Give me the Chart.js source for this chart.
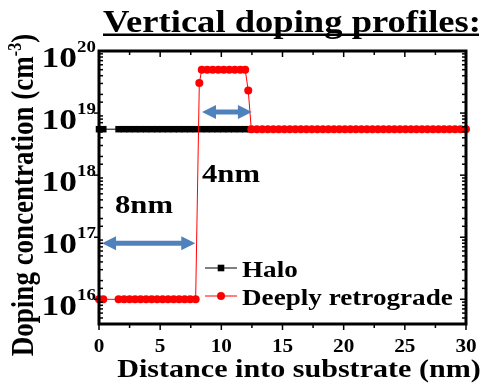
<!DOCTYPE html>
<html>
<head>
<meta charset="utf-8">
<script src="https://cdn.jsdelivr.net/npm/chart.js@4.4.1/dist/chart.umd.min.js"></script>
<style>
    body { margin: 0; background: #fff; }
    #contenedor { width: 483px; height: 385px; }
</style>
</head>
<body>
<div id="contenedor"><canvas id="grafico" width="483" height="385"></canvas></div>
<script>
// Perfil Halo (nm, cm-3)
const haloX = [0, 0.35, 1.6, 2.05, 2.5, 2.95, 3.4, 3.85, 4.3, 4.75, 5.2, 5.65, 6.1, 6.55, 7.0, 7.45, 7.9,
               8.35, 8.8, 9.25, 9.7, 10.15, 10.6, 11.05, 11.5, 11.95, 12.4];
const haloY = [5.5e18, 5.5e18, 5.5e18, 5.5e18, 5.5e18, 5.5e18, 5.5e18, 5.5e18, 5.5e18,
               5.5e18, 5.5e18, 5.5e18, 5.5e18, 5.5e18, 5.5e18, 5.5e18, 5.5e18, 5.5e18,
               5.5e18, 5.5e18, 5.5e18, 5.5e18, 5.5e18, 5.5e18, 5.5e18, 5.5e18, 5.5e18];

// Perfil retrógrado profundo
const retroX = [0, 0.35, 1.6, 2.05, 2.5, 2.95, 3.4, 3.85, 4.3, 4.75, 5.2, 5.65, 6.1, 6.55, 7.0, 7.45, 7.9,
                8.2,
                8.4, 8.85, 9.3, 9.75, 10.2, 10.65, 11.1, 11.55, 11.95,
                12.2,
                12.45, 12.9, 13.35, 13.8, 14.25, 14.7, 15.15, 15.6, 16.05, 16.5,
                16.95, 17.4, 17.85, 18.3, 18.75, 19.2, 19.65, 20.1, 20.55, 21.0,
                21.45, 21.9, 22.35, 22.8, 23.25, 23.7, 24.15, 24.6, 25.05, 25.5,
                25.95, 26.4, 26.85, 27.3, 27.75, 28.2, 28.65, 29.1, 29.55, 30.0];
const retroY = [1e16, 1e16, 1e16, 1e16, 1e16, 1e16, 1e16, 1e16, 1e16, 1e16, 1e16, 1e16, 1e16, 1e16, 1e16, 1e16, 1e16,
                3.05e19,
                5e19, 5e19, 5e19, 5e19, 5e19, 5e19, 5e19, 5e19, 5e19,
                2.3e19,
                5.5e18, 5.5e18, 5.5e18, 5.5e18, 5.5e18, 5.5e18, 5.5e18, 5.5e18, 5.5e18, 5.5e18,
                5.5e18, 5.5e18, 5.5e18, 5.5e18, 5.5e18, 5.5e18, 5.5e18, 5.5e18, 5.5e18, 5.5e18,
                5.5e18, 5.5e18, 5.5e18, 5.5e18, 5.5e18, 5.5e18, 5.5e18, 5.5e18, 5.5e18, 5.5e18,
                5.5e18, 5.5e18, 5.5e18, 5.5e18, 5.5e18, 5.5e18, 5.5e18, 5.5e18, 5.5e18, 5.5e18];

// Etiquetas de los ejes
const xEtiquetas = [0, 5, 10, 15, 20, 25, 30];
const yExponentes = [16, 17, 18, 19, 20];

// Flechas de anchura (8nm y 4nm)
const flechasX = [[0.25, 7.87], [8.42, 12.5]];
const flechasY = [8.0e16, 1.04e19];
const flechasTexto = ['8nm', '4nm'];

const serif = '"Liberation Serif", "Times New Roman", serif';
const SX = 1.18;   // letra algo ensanchada

function texto(ctx, str, x, y, size, align) {
    ctx.save();
    ctx.font = 'bold ' + size + 'px ' + serif;
    let w = ctx.measureText(str).width * SX;
    let x0 = align == 'center' ? x - w / 2 : (align == 'right' ? x - w : x);
    ctx.translate(x0, y);
    ctx.scale(SX, 1);
    ctx.textAlign = 'left';
    ctx.textBaseline = 'alphabetic';
    ctx.fillStyle = '#000';
    ctx.fillText(str, 0, 0);
    ctx.restore();
    return w;
}

function linea(ctx, x1, y1, x2, y2) {
    ctx.beginPath();
    ctx.moveTo(x1, y1);
    ctx.lineTo(x2, y2);
    ctx.stroke();
}

function flecha(ctx, x1, x2, y) {
    const cab = 14, hw = 7, sw = 2.5;
    ctx.beginPath();
    ctx.moveTo(x1, y);
    ctx.lineTo(x1 + cab, y - hw);
    ctx.lineTo(x1 + cab, y - sw);
    ctx.lineTo(x2 - cab, y - sw);
    ctx.lineTo(x2 - cab, y - hw);
    ctx.lineTo(x2, y);
    ctx.lineTo(x2 - cab, y + hw);
    ctx.lineTo(x2 - cab, y + sw);
    ctx.lineTo(x1 + cab, y + sw);
    ctx.lineTo(x1 + cab, y + hw);
    ctx.closePath();
    ctx.fill();
}

const marco = {
    id: 'marco',
    afterDatasetsDraw(chart) {
        const ctx = chart.ctx;
        const x = chart.scales.x, y = chart.scales.y;
        const {left, right, top, bottom} = chart.chartArea;

        // flechas azules
        ctx.save();
        ctx.fillStyle = '#4f81bd';
        flechasX.forEach((par, i) => {
            flecha(ctx, x.getPixelForValue(par[0]), x.getPixelForValue(par[1]), y.getPixelForValue(flechasY[i]));
        });
        ctx.restore();
        texto(ctx, flechasTexto[0], 115, 213, 26, 'left');
        texto(ctx, flechasTexto[1], 202, 182, 26, 'left');

        // marco y marcas de los ejes
        ctx.save();
        ctx.strokeStyle = '#000';
        ctx.lineWidth = 3;
        ctx.strokeRect(left, top, right - left, bottom - top);
        ctx.lineWidth = 1.5;
        x.ticks.forEach(t => {
            const px = x.getPixelForValue(t.value);
            const len = t.value % 5 === 0 ? 6 : 4;
            linea(ctx, px, bottom, px, bottom + len);
            linea(ctx, px, top, px, top + len);
        });
        y.ticks.forEach(t => {
            const py = y.getPixelForValue(t.value);
            if (py < top + 1 || py > bottom - 1) return;
            const e = Math.log10(t.value);
            const mayor = Math.abs(e - Math.round(e)) < 1e-6;
            if (mayor) {
                linea(ctx, left - 5, py, left, py);
                linea(ctx, right - 6, py, right, py);
            } else {
                linea(ctx, left, py, left + 4, py);
                linea(ctx, right - 4, py, right, py);
            }
        });
        ctx.restore();

        // etiquetas del eje x
        xEtiquetas.forEach(v => {
            texto(ctx, String(v), x.getPixelForValue(v), 352, 18, 'center');
        });
        // etiquetas del eje y: 10 con exponente
        yExponentes.forEach(n => {
            const py = y.getPixelForValue(Math.pow(10, n));
            texto(ctx, '10', 77, py + 16, 30, 'right');
            texto(ctx, String(n), 77, py + 1, 16, 'left');
        });

        // titulo eje x
        texto(ctx, 'Distance into substrate (nm)', 299, 377, 25.5, 'center');

        // titulo eje y (girado)
        ctx.save();
        ctx.translate(33, 195);
        ctx.rotate(-Math.PI / 2);
        ctx.scale(1, SX);
        ctx.fillStyle = '#000';
        ctx.textBaseline = 'alphabetic';
        ctx.font = 'bold 27px ' + serif;
        const t1 = 'Doping concentration (cm', t3 = ')';
        const w1 = ctx.measureText(t1).width, w3 = ctx.measureText(t3).width;
        ctx.font = 'bold 16px ' + serif;
        const w2 = ctx.measureText('-3').width;
        let x0 = -(w1 + w2 + w3) / 2;
        ctx.font = 'bold 27px ' + serif;
        ctx.fillText(t1, x0, 0);
        ctx.font = 'bold 16px ' + serif;
        ctx.fillText('-3', x0 + w1, -10);
        ctx.font = 'bold 27px ' + serif;
        ctx.fillText(t3, x0 + w1 + w2, 0);
        ctx.restore();

        // titulo subrayado
        const wt = texto(ctx, 'Vertical doping profiles:', 103, 32, 31, 'left');
        ctx.save();
        ctx.fillStyle = '#000';
        ctx.fillRect(103, 33.5, wt - 2, 2.5);
        ctx.restore();

        // leyenda
        const items = [
            {y: 268, color: '#000', estilo: 'rect', label: 'Halo'},
            {y: 296, color: '#ff0000', estilo: 'circle', label: 'Deeply retrograde'}
        ];
        items.forEach(it => {
            ctx.save();
            ctx.strokeStyle = it.color;
            ctx.fillStyle = it.color;
            ctx.lineWidth = 1;
            linea(ctx, 205, it.y, 237, it.y);
            if (it.estilo == 'rect') {
                ctx.fillRect(221 - 3.3, it.y - 3.3, 6.6, 6.6);
            } else {
                ctx.beginPath();
                ctx.arc(221, it.y, 4, 0, 2 * Math.PI);
                ctx.fill();
            }
            ctx.restore();
            texto(ctx, it.label, 242, it.y + 9, 23, 'left');
        });
    }
};

new Chart(document.getElementById('grafico'), {
    type: 'line',
    data: {
        datasets: [
            {
                label: 'Deeply retrograde',
                data: retroX.map((v, i) => ({x: v, y: retroY[i]})),
                borderColor: '#ff0000',
                backgroundColor: '#ff0000',
                pointBackgroundColor: '#ff0000',
                borderWidth: 1,
                pointRadius: 4,
                pointBorderWidth: 0,
                pointStyle: 'circle',
                clip: false,
                order: 0
            },
            {
                label: 'Halo',
                data: haloX.map((v, i) => ({x: v, y: haloY[i]})),
                borderColor: '#000',
                backgroundColor: '#000',
                pointBackgroundColor: '#000',
                borderWidth: 1,
                pointRadius: 4.6,
                pointBorderWidth: 0,
                pointStyle: 'rect',
                clip: false,
                order: 1
            }
        ]
    },
    options: {
        responsive: false,
        animation: false,
        events: [],
        layout: { padding: { top: 51, right: 17, left: 0, bottom: 0 } },
        plugins: {
            legend: { display: false },
            title: { display: false },
            tooltip: { enabled: false }
        },
        scales: {
            x: {
                type: 'linear', min: 0, max: 30,
                ticks: { stepSize: 2.5, display: false },
                grid: { display: false },
                border: { display: false },
                afterFit: s => { s.height = 61; }
            },
            y: {
                type: 'logarithmic', min: 4e15, max: 1e20,
                ticks: { display: false },
                grid: { display: false },
                border: { display: false },
                afterFit: s => { s.width = 99; }
            }
        }
    },
    plugins: [marco]
});
</script>
</body>
</html>
